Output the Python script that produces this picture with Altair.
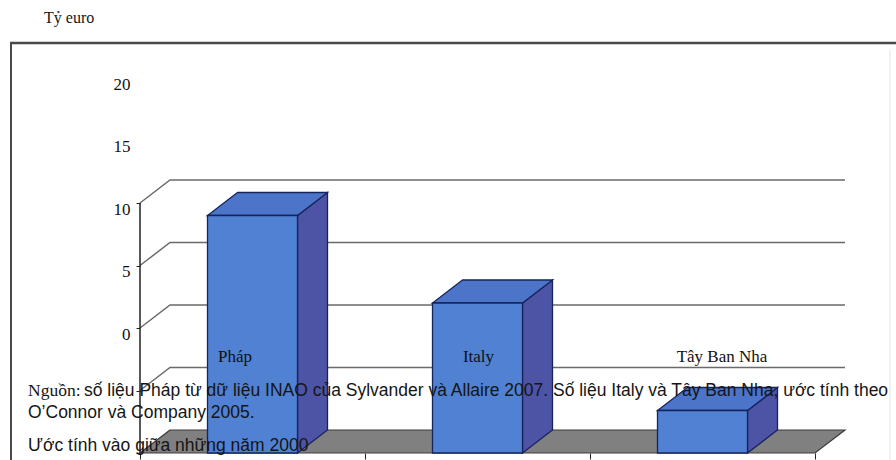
import altair as alt
import pandas as pd

# Values (billion euro) per country
categories = ["Pháp", "Italy", "Tây Ban Nha"]
values = [19.0, 12.0, 3.4]
y_ticks = [0, 5, 10, 15, 20]

unit_label = "Tỷ euro"
source_lead = "Nguồn:"
source_line1 = ("số liệu Pháp từ dữ liệu INAO của Sylvander và Allaire 2007. "
                "Số liệu Italy và Tây Ban Nha, ước tính theo")
source_line2 = "O’Connor và Company 2005."
note_line = "Ước tính vào giữa những năm 2000"

# 3-D box geometry (pixels per category band / per value unit, depth shift)
CAT_PX = 225
UNIT_PX = 12.5
DEPTH_X = 30 / CAT_PX
DEPTH_Y = 23 / UNIT_PX
BAR_L, BAR_R = 0.3, 0.7
X_MAX = len(categories) + DEPTH_X
Y_MAX = max(y_ticks) + DEPTH_Y
W = X_MAX * CAT_PX
H = Y_MAX * UNIT_PX

XS = alt.Scale(domain=[0, X_MAX], nice=False, zero=False)
YS = alt.Scale(domain=[0, Y_MAX], nice=False, zero=False)
XA = alt.Axis(values=list(range(len(categories) + 1)), labels=False, domain=False,
              grid=False, ticks=True, tickSize=6, tickColor="#222", title=None)
YA = alt.Axis(values=y_ticks, domain=False, grid=False, ticks=True, tickSize=4,
              tickColor="#222", labelOffset=-119, labelPadding=6,
              labelFont="Liberation Serif", labelFontSize=17, labelColor="#111",
              title=None)

front_rows, side_rows, top_rows = [], [], []
for i, (c, v) in enumerate(zip(categories, values)):
    front_rows.append({"cat": c, "x0": i + BAR_L, "x1": i + BAR_R, "y0": 0.0, "y1": v})
    side_rows.append({"cat": c, "x": i + BAR_R, "y0": 0.0, "y1": v})
    side_rows.append({"cat": c, "x": i + BAR_R + DEPTH_X, "y0": DEPTH_Y, "y1": v + DEPTH_Y})
    top_rows.append({"cat": c, "y": v, "x0": i + BAR_L, "x1": i + BAR_R})
    top_rows.append({"cat": c, "y": v + DEPTH_Y, "x0": i + BAR_L + DEPTH_X,
                     "x1": i + BAR_R + DEPTH_X})
front_df = pd.DataFrame(front_rows)
side_df = pd.DataFrame(side_rows)
top_df = pd.DataFrame(top_rows)

grid_rows = []
for lv in y_ticks[1:]:
    grid_rows.append({"lv": lv, "k": 0, "x": 0.0, "y": lv})
    grid_rows.append({"lv": lv, "k": 1, "x": DEPTH_X, "y": lv + DEPTH_Y})
    grid_rows.append({"lv": lv, "k": 2, "x": len(categories) + DEPTH_X, "y": lv + DEPTH_Y})
grid_df = pd.DataFrame(grid_rows)

floor_df = pd.DataFrame([
    {"y": 0.0, "x0": 0.0, "x1": float(len(categories))},
    {"y": DEPTH_Y, "x0": DEPTH_X, "x1": len(categories) + DEPTH_X},
])
axis_df = pd.DataFrame([{"x": 0.0, "y0": 0.0, "y1": float(max(y_ticks))}])

grid = alt.Chart(grid_df).mark_line(color="#6a6a6a", strokeWidth=1.5).encode(
    x=alt.X("x:Q", scale=XS, axis=XA),
    y=alt.Y("y:Q", scale=YS, axis=YA),
    detail="lv:N", order="k:Q")

floor = alt.Chart(floor_df).mark_area(
    orient="horizontal", color="#808080", stroke="#3c3c3c", strokeWidth=1.2
).encode(
    y=alt.Y("y:Q", scale=YS, axis=YA),
    x=alt.X("x0:Q", scale=XS, axis=XA), x2="x1:Q")

front_axis = alt.Chart(axis_df).mark_rule(color="#222", strokeWidth=1.5).encode(
    x=alt.X("x:Q", scale=XS, axis=XA),
    y=alt.Y("y0:Q", scale=YS, axis=YA), y2="y1:Q")

sides = alt.Chart(side_df).mark_area(
    orient="vertical", color="#4d53a5", stroke="#16245c", strokeWidth=1.3
).encode(
    x=alt.X("x:Q", scale=XS, axis=XA),
    y=alt.Y("y0:Q", scale=YS, axis=YA), y2="y1:Q", detail="cat:N")

tops = alt.Chart(top_df).mark_area(
    orient="horizontal", color="#4c74c9", stroke="#16245c", strokeWidth=1.3
).encode(
    y=alt.Y("y:Q", scale=YS, axis=YA),
    x=alt.X("x0:Q", scale=XS, axis=XA), x2="x1:Q", detail="cat:N")

fronts = alt.Chart(front_df).mark_rect(
    color="#5081d2", stroke="#16245c", strokeWidth=1.3
).encode(
    x=alt.X("x0:Q", scale=XS, axis=XA), x2="x1:Q",
    y=alt.Y("y0:Q", scale=YS, axis=YA), y2="y1:Q")

plot = alt.layer(grid, floor, sides, tops, fronts, front_axis)

# Country names above the floor
cat_df = pd.DataFrame({"cat": categories})
cat_labels = alt.Chart(cat_df).mark_text(
    font="Liberation Serif", fontSize=17, color="#111", baseline="alphabetic"
).encode(
    x=alt.X("cat:N", sort=categories, axis=None,
            scale=alt.Scale(type="point", range=[95, 582], padding=0)),
    y=alt.value(182), text="cat:N")

# Frame around the figure
frame_left = alt.Chart(pd.DataFrame({"a": [0]})).mark_rule(
    color="#4a4a4a", strokeWidth=2).encode(
    x=alt.value(-129), y=alt.value(-137), y2=alt.value(290))
frame_top = alt.Chart(pd.DataFrame({"a": [0]})).mark_rule(
    color="#4a4a4a", strokeWidth=2.5).encode(
    x=alt.value(-130), x2=alt.value(770), y=alt.value(-137))
frame_right = alt.Chart(pd.DataFrame({"a": [0]})).mark_rule(
    color="#e4e4e4", strokeWidth=1).encode(
    x=alt.value(750), y=alt.value(-130), y2=alt.value(290))

def text_layer(txt, x, y, font, size):
    return alt.Chart(pd.DataFrame({"t": [txt]})).mark_text(
        font=font, fontSize=size, color="#151515", align="left", baseline="alphabetic"
    ).encode(x=alt.value(x), y=alt.value(y), text="t:N")

texts = alt.layer(
    text_layer(unit_label, -96, -157, "Liberation Serif", 16),
    text_layer(source_lead, -112, 216, "Liberation Serif", 17.5),
    text_layer(source_line1, -56, 216, "Liberation Sans", 17.5),
    text_layer(source_line2, -112, 238, "Liberation Sans", 17.5),
    text_layer(note_line, -112, 271, "Liberation Sans", 17.5),
)

chart = alt.layer(
    frame_left, frame_top, frame_right, plot, cat_labels, texts
).resolve_scale(x="independent").properties(
    width=W, height=H,
    autosize=alt.AutoSizeParams(type="none"),
    padding={"left": 140, "top": 180, "right": 896 - 140 - W, "bottom": 460 - 180 - H},
    background="white",
).configure_view(stroke=None)

chart.save("out.html", embed_options={"renderer": "svg", "actions": False})
